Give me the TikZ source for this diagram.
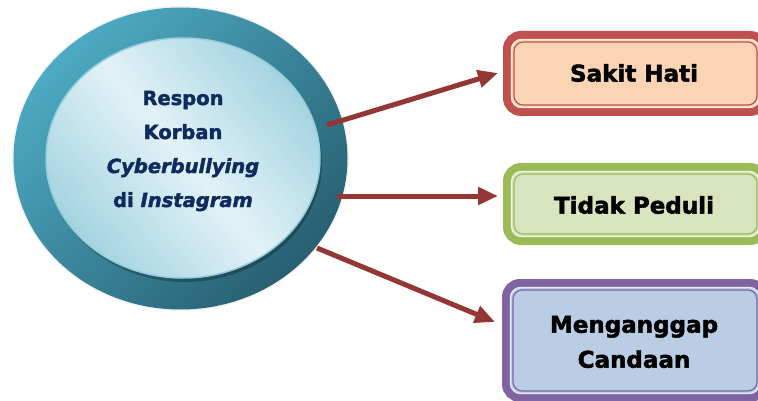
\documentclass[tikz,border=0pt]{standalone}
\usepackage{fontspec}
\setmainfont{DejaVu Sans}[BoldFeatures={FakeBold=2},BoldItalicFeatures={FakeBold=2}]
\usetikzlibrary{shapes.geometric,shadows,arrows.meta,calc}
\definecolor{navy}{HTML}{0F2A5C}
\definecolor{arr}{HTML}{943634}
\definecolor{redb}{HTML}{C0504D}
\definecolor{redf}{HTML}{FBD4B4}
\definecolor{greenb}{HTML}{9BBB59}
\definecolor{greenf}{HTML}{D7E4BD}
\definecolor{purb}{HTML}{8064A2}
\definecolor{purf}{HTML}{B9CDE5}
\definecolor{outL}{RGB}{76,170,194}
\definecolor{outD}{RGB}{40,96,114}
\definecolor{inL}{RGB}{226,242,247}
\definecolor{inD}{RGB}{164,212,225}
\tikzset{
  conn/.style={draw=arr, line width=5pt, -{Triangle[length=20pt,width=17pt]}},
  boxtxt/.style={font=\fontsize{23}{35}\selectfont\bfseries, align=center, text=black},
  ctxt/.style={font=\fontsize{19.5}{34}\selectfont\bfseries, align=center, text=navy},
}
\newcommand{\cbox}[6]{% name, x1,y1,x2,y2, color
  \draw[#6b, line width=8pt, fill=#6f, rounded corners=14pt] (#2,#3) rectangle (#4,#5);
  \draw[white!60!#6f, line width=1.2pt, rounded corners=10pt] ($(#2,#3)+(4.5,4.5)$) rectangle ($(#4,#5)+(-4.5,-4.5)$);
  \draw[#6b, line width=1.2pt, rounded corners=9pt] ($(#2,#3)+(7,7)$) rectangle ($(#4,#5)+(-7,-7)$);
  \coordinate (#1) at ($(#2,#3)!0.5!(#4,#5)$);
}
\begin{document}
\begin{tikzpicture}[x=1pt,y=-1pt]
\useasboundingbox (0,0) rectangle (758,401);
\clip (0,0) rectangle (758,401);
% outer ellipse
\node[ellipse, minimum width=337pt, minimum height=305pt, inner sep=0pt,
      fill=black!5] (outerbg) at (180.5,158.5) {};
\node[ellipse, minimum width=334pt, minimum height=302pt, inner sep=0pt,
      shading=axis, top color=outL, bottom color=outD, shading angle=45] (outer) at (180.5,158.5) {};
% inner ellipse
\node[ellipse, minimum width=274pt, minimum height=240pt, inner sep=0pt,
      shading=axis, top color=inD, bottom color=inD, middle color=inL, shading angle=-50,
      draw={rgb,255:red,150;green,205;blue,220}, line width=1.5pt,
      drop shadow={shadow xshift=2pt, shadow yshift=-4pt, opacity=0.25, fill=black}] (inner) at (183,158) {};
\node[ctxt] (label) at (183,151) {Respon\\Korban\\\textit{Cyberbullying}\\di \textit{Instagram}};

% boxes
\cbox{b1}{507}{35}{764}{112}{red}
\cbox{b2}{507}{167}{764}{241}{green}
\cbox{b3}{506}{283}{764}{398}{pur}
\node[boxtxt] (t1) at (634,73) {Sakit Hati};
\node[boxtxt] (t2) at (634,205) {Tidak Peduli};
\node[boxtxt] (t3) at (634,342) {Menganggap\\Candaan};

% connectors
\coordinate (s1) at (327,125);
\coordinate (e1) at (498,73);
\coordinate (s2) at (337,196);
\coordinate (e2) at (498,196);
\coordinate (s3) at (317,248);
\coordinate (e3) at (495,322);
\draw[conn] (s1) -- (e1);
\draw[conn] (s2) -- (e2);
\draw[conn] (s3) -- (e3);
\end{tikzpicture}
\end{document}
